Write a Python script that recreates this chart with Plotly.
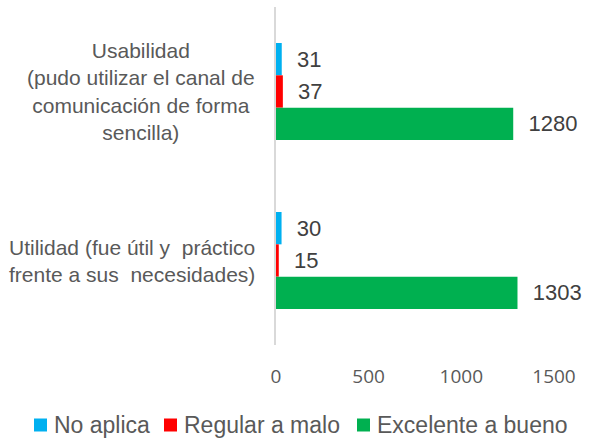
import plotly.graph_objects as go

# categories (top to bottom)
categories = ["Usabilidad", "Utilidad"]
category_labels = [
    "Usabilidad<br>(pudo utilizar el canal de<br>comunicación de forma<br>sencilla)",
    "Utilidad (fue útil y\u00a0 práctico<br>frente a sus\u00a0 necesidades)",
]

series_names = ["No aplica", "Regular a malo", "Excelente a bueno"]
no_aplica = [31, 30]
regular_malo = [37, 15]
excelente_bueno = [1280, 1303]
colors = ["#00B0F0", "#FF0000", "#00B050"]

x_ticks = [0, 500, 1000, 1500]

W, H = 589, 438
L, R, T, B = 276, 35, 7, 93
pw, ph = W - L - R, H - T - B

fig = go.Figure()
for name, vals, col in zip(series_names, [no_aplica, regular_malo, excelente_bueno], colors):
    fig.add_trace(go.Bar(
        y=categories, x=vals, name=name, orientation="h",
        marker=dict(color=col, line=dict(width=0)),
        texttemplate="\u00a0\u00a0%{x}", textposition="outside",
        outsidetextfont=dict(family="Liberation Sans, Arial", size=22, color="#404040"),
        cliponaxis=False, showlegend=False,
    ))

# category labels centred line by line, like the original
for cat, lab in zip(categories, category_labels):
    fig.add_annotation(
        x=0, xref="paper", y=cat, yref="y", text=lab, showarrow=False,
        xanchor="right", yanchor="middle", align="center", xshift=-19,
        font=dict(family="Liberation Sans, Arial", size=21, color="#595959"),
    )

# legend drawn by hand so it stays on one row
legend_px = [34, 164, 357]
legend_py = 425
for name, col, px in zip(series_names, colors, legend_px):
    x0 = (px - L) / pw
    x1 = (px + 13 - L) / pw
    yc = (H - B - legend_py) / ph
    fig.add_shape(type="rect", xref="paper", yref="paper",
                  x0=x0, x1=x1, y0=yc - 6.5 / ph, y1=yc + 6.5 / ph,
                  fillcolor=col, line=dict(width=0))
    fig.add_annotation(x=(px + 18 - L) / pw, xref="paper", y=yc, yref="paper",
                       text=name, showarrow=False, xanchor="left", yanchor="middle",
                       font=dict(family="Liberation Sans, Arial", size=23, color="#595959"))

fig.update_layout(
    width=W, height=H,
    margin=dict(l=L, r=R, t=T, b=B, autoexpand=False),
    barmode="group", bargap=0.426, bargroupgap=0,
    plot_bgcolor="white", paper_bgcolor="white",
    showlegend=False,
)
fig.update_yaxes(
    autorange="reversed", showticklabels=False, showgrid=False, automargin=False,
    showline=True, linecolor="#D9D9D9", linewidth=1.5, ticks="",
)
fig.update_xaxes(
    range=[0, 1500], tickvals=x_ticks, showgrid=False, zeroline=False, automargin=False,
    showline=False, ticks="", ticklabelstandoff=18,
    tickfont=dict(family="Open Sans", size=19, color="#595959"),
)

# drop the page's default body margin so the chart sits at the window corner
fig.write_html("out.html", config={"displayModeBar": False},
               post_script="document.body.style.margin='0';")
